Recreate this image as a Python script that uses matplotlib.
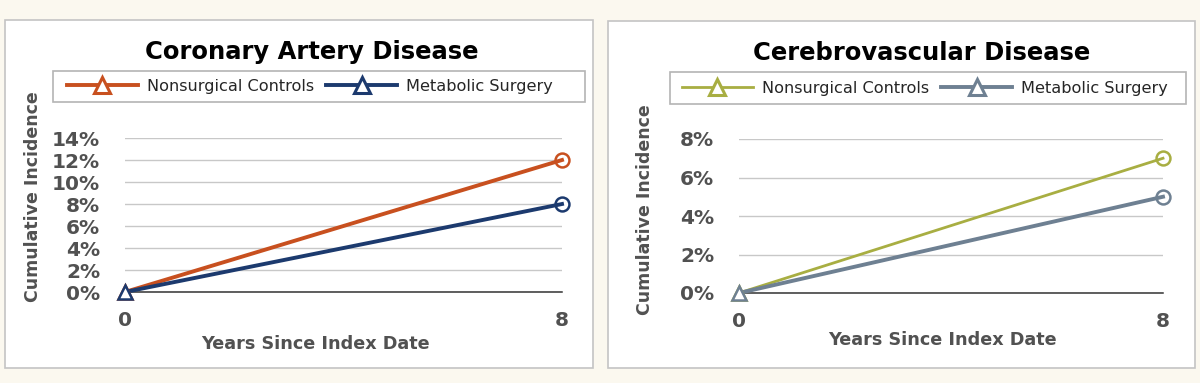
import matplotlib
matplotlib.use("Agg")
import matplotlib.pyplot as plt
from matplotlib.patches import Rectangle
from matplotlib.ticker import FuncFormatter

# data
YEARS = [0, 8]
SERIES_NAMES = ["Nonsurgical Controls", "Metabolic Surgery"]
CAD_CONTROLS = [0, 12]
CAD_SURGERY = [0, 8]
CVD_CONTROLS = [0, 7]
CVD_SURGERY = [0, 5]
CAD_TICKS = [0, 2, 4, 6, 8, 10, 12, 14]
CVD_TICKS = [0, 2, 4, 6, 8]

BG = "#fbf8ef"
TICK_GREY = "#515151"

fig = plt.figure(figsize=(12, 3.83), dpi=100)
fig.patch.set_facecolor(BG)


def px(x, y):
    """pixel coords (top-left origin) -> figure fraction"""
    return x / 1200, 1 - y / 383


def frame(box, face, edge):
    x0, y1 = px(box[0], box[3])
    fig.add_artist(Rectangle((x0, y1), (box[2] - box[0]) / 1200,
                             (box[3] - box[1]) / 383,
                             transform=fig.transFigure, facecolor=face,
                             edgecolor=edge, linewidth=1.2, zorder=0))


def draw_panel(box, axpos, title, title_xy, ylab_xy, xlab_xy, legend_box,
               legend_x, controls, surgery, colors, widths, yticks):
    frame(box, "white", "#c4c4c4")

    left, bottom = px(axpos[0], axpos[3])
    ax = fig.add_axes([left, bottom, (axpos[2] - axpos[0]) / 1200,
                       (axpos[3] - axpos[1]) / 383])
    ax.set_facecolor("white")

    for vals, col, lw, name in zip([controls, surgery], colors, widths,
                                   SERIES_NAMES):
        ax.plot(YEARS, vals, color=col, lw=lw, zorder=3, clip_on=False)
        ax.plot(YEARS[:1], vals[:1], marker="^", ms=10, mfc="white",
                mec=col, mew=1.8, ls="none", zorder=4, clip_on=False)
        ax.plot(YEARS[-1:], vals[-1:], marker="o", ms=10, mfc="none",
                mec=col, mew=1.8, ls="none", zorder=4, clip_on=False)

    ax.set_xlim(0, 8)
    ax.set_ylim(0, yticks[-1])
    ax.set_xticks(YEARS)
    ax.set_yticks(yticks)
    ax.yaxis.set_major_formatter(FuncFormatter(lambda v, p: f"{v:.0f}%"))
    ax.grid(axis="y", color="#c8c8c8", lw=1.0)
    ax.axhline(0, color="#333333", lw=1.1, zorder=2, clip_on=False)
    for s in ax.spines.values():
        s.set_visible(False)
    ax.tick_params(length=0, labelsize=14.5, labelcolor=TICK_GREY)
    ax.tick_params(axis="y", pad=18)
    ax.tick_params(axis="x", pad=14)
    for lab in ax.get_xticklabels() + ax.get_yticklabels():
        lab.set_fontweight("bold")

    fig.text(*px(*title_xy), title, ha="center", va="center",
             fontsize=17.5, fontweight="bold", color="black")
    fig.text(*px(*ylab_xy), "Cumulative Incidence", ha="center",
             va="center", rotation=90, fontsize=12.5, fontweight="bold",
             color=TICK_GREY)
    fig.text(*px(*xlab_xy), "Years Since Index Date", ha="center",
             va="center", fontsize=12.7, fontweight="bold", color=TICK_GREY)

    # legend: frame drawn separately, entries packed from the left
    frame(legend_box, "white", "#b4b4b4")
    handles = []
    for col, lw in zip(colors, widths):
        h, = ax.plot([], [], color=col, lw=lw, marker="^", ms=12,
                     mfc="white", mec=col, mew=2.2)
        handles.append(h)
    ax.legend(handles, SERIES_NAMES, ncol=2, loc="center left",
              bbox_to_anchor=px(legend_x, (legend_box[1] + legend_box[3]) / 2),
              bbox_transform=fig.transFigure, frameon=False,
              fontsize=11.6, handlelength=4.4, borderaxespad=0, borderpad=0,
              columnspacing=0.75, handletextpad=0.56, labelcolor="#262626")
    return ax


draw_panel((5, 20, 593, 368), (125, 138, 562, 292), "Coronary Artery Disease",
           (312, 52), (33, 197), (315, 344), (53, 71, 585, 102), 67,
           CAD_CONTROLS, CAD_SURGERY, ["#c8501f", "#1c3a6e"], [2.8, 2.8],
           CAD_TICKS)
draw_panel((608, 21, 1195, 368), (739, 139, 1163, 293),
           "Cerebrovascular Disease", (922, 53), (645, 210), (942, 340),
           (670, 72, 1186, 104), 682, CVD_CONTROLS, CVD_SURGERY,
           ["#a8ae42", "#6e8092"], [2.0, 2.8], CVD_TICKS)

fig.savefig("out.png", dpi=100, facecolor=BG)
